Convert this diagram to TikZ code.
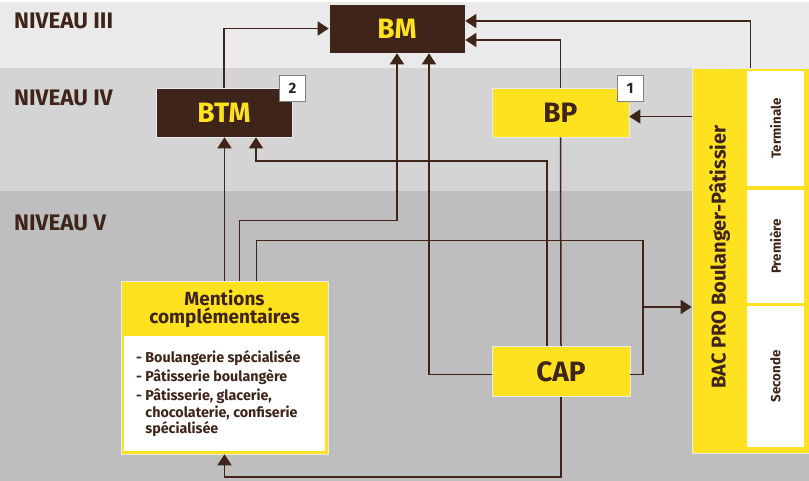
\documentclass[tikz,border=0pt]{standalone}
\usepackage{fontspec}
\setmainfont{Fira Sans}
\usetikzlibrary{arrows.meta,positioning}
\definecolor{brun}{HTML}{3F2419}
\definecolor{jaune}{HTML}{FFE21F}
\definecolor{niv3}{HTML}{EAEAEA}
\definecolor{niv4}{HTML}{D4D4D4}
\definecolor{niv5}{HTML}{BEBEBE}
\newcommand{\fs}[2]{\fontsize{#1}{#2}\selectfont}

\begin{document}
\begin{tikzpicture}[x=1pt, y=-1pt,
	niveau/.style={anchor=base west, inner sep=0pt, font=\bfseries\fs{22.5}{24}, text=brun},
	sombre/.style={fill=brun, draw=niv3, line width=0.6pt, text=jaune, minimum width=136pt, minimum height=49pt, font=\bfseries\fs{28}{30}},
	clair/.style={fill=jaune, draw=niv3, line width=0.6pt, text=brun, minimum width=137pt, minimum height=49pt, font=\bfseries\fs{28}{30}},
	pastille/.style={fill=white, draw=gray, line width=0.8pt, minimum size=26pt, inner sep=0pt, font=\bfseries\fs{15}{15}, text=black!85},
	classe/.style={fill=white, rotate=90, minimum height=57pt, inner sep=0pt, font=\bfseries\fs{13.3}{14}, text=brun},
	lien/.style={draw=brun, line width=1.5pt},
	fleche/.style={lien, -{Triangle[width=14pt,length=11pt]}}]
\useasboundingbox (0,0) rectangle (809,481);
% niveaux
\fill[white] (0,0) rectangle (809,481);
\fill[niv3] (0,2) rectangle (809,68);
\fill[niv4] (0,68) rectangle (809,191);
\fill[niv5] (0,191) rectangle (809,481);
\node[niveau] (n3) at (14,29) {NIVEAU III};
\node[niveau] (n4) at (14,106) {NIVEAU IV};
\node[niveau] (n5) at (14,231) {NIVEAU V};

% diplomes
\node[sombre] (bm) at (397,28.5) {BM};
\node[sombre] (btm) at (224,112.5) {BTM};
\node[clair] (bp) at (560.5,112.5) {BP};
\node[clair, minimum width=138pt, minimum height=50pt] (cap) at (561,371.5) {CAP};
\node[pastille] (p2) at (292.5,88) {2};
\node[pastille] (p1) at (630,88) {1};

% bac pro
\node[clair, minimum width=117pt, minimum height=385pt] (bac) at (750.5,260.5) {};
\node[rotate=90, font=\bfseries\fs{20}{22}, text=brun] (bactitre) at (719.5,257) {BAC PRO Boulanger-Pâtissier};
\node[classe, minimum width=115pt] (term) at (775.5,128.5) {Terminale};
\node[classe, minimum width=113pt] (prem) at (775.5,246.5) {Première};
\node[classe, minimum width=141pt] (sec) at (775.5,376.5) {Seconde};

% mentions complementaires
\node[fill=jaune, draw=niv3, line width=0.6pt, minimum width=207pt, minimum height=173pt] (mc) at (224.5,367.5) {};
\fill[white] ([xshift=3pt,yshift=-55pt]mc.north west) rectangle ([xshift=-3pt,yshift=3pt]mc.south east);
\node[align=center, inner sep=0pt, font=\bfseries\fs{19}{18}, text=brun] (mctitre) at (224.5,309) {Mentions\\complémentaires};
\node[anchor=north west, align=left, font=\bfseries\fs{14.3}{16.5}, text=brun, inner sep=0pt] (mcliste) at (136,350.5)
	{- Boulangerie spécialisée\\[2.5pt]- Pâtisserie boulangère\\[2.5pt]- Pâtisserie, glacerie,\\\phantom{- }chocolaterie, confiserie\\\phantom{- }spécialisée};

% liaisons
\path ([yshift=-4pt]bp.east) coordinate (bpin);
\coordinate (jonction) at (643,307);
\draw[fleche] (btm.north) |- (bm.west);
\draw[fleche] (bac.north) |- ([yshift=7.5pt]bm.east);
\draw[fleche] (bp.north) |- ([yshift=-11.5pt]bm.east);
\draw[fleche] (bac.west |- bpin) -- (bpin);
\draw[lien] (cap.north) -- (bp.south);
\draw[fleche] (mc.north) -- (mc.north |- btm.south);
\draw[fleche] ([xshift=15pt]mc.north) -- ++(0,-60) -| (bm.south);
\draw[fleche] ([yshift=-3pt]cap.west) -| ([xshift=32pt]bm.south);
\draw[fleche] ([xshift=-14pt]cap.north) -- ++(0,-185) -| ([xshift=32pt]btm.south);
\draw[lien] ([xshift=32pt]mc.north) -- ++(0,-40) -| (jonction);
\draw[lien] ([yshift=-3pt]cap.east) -| (jonction);
\draw[fleche] (jonction) -- (jonction -| bac.west);
\draw[fleche] (cap.south) -- ++(0,80) -| (mc.south);
\end{tikzpicture}
\end{document}
